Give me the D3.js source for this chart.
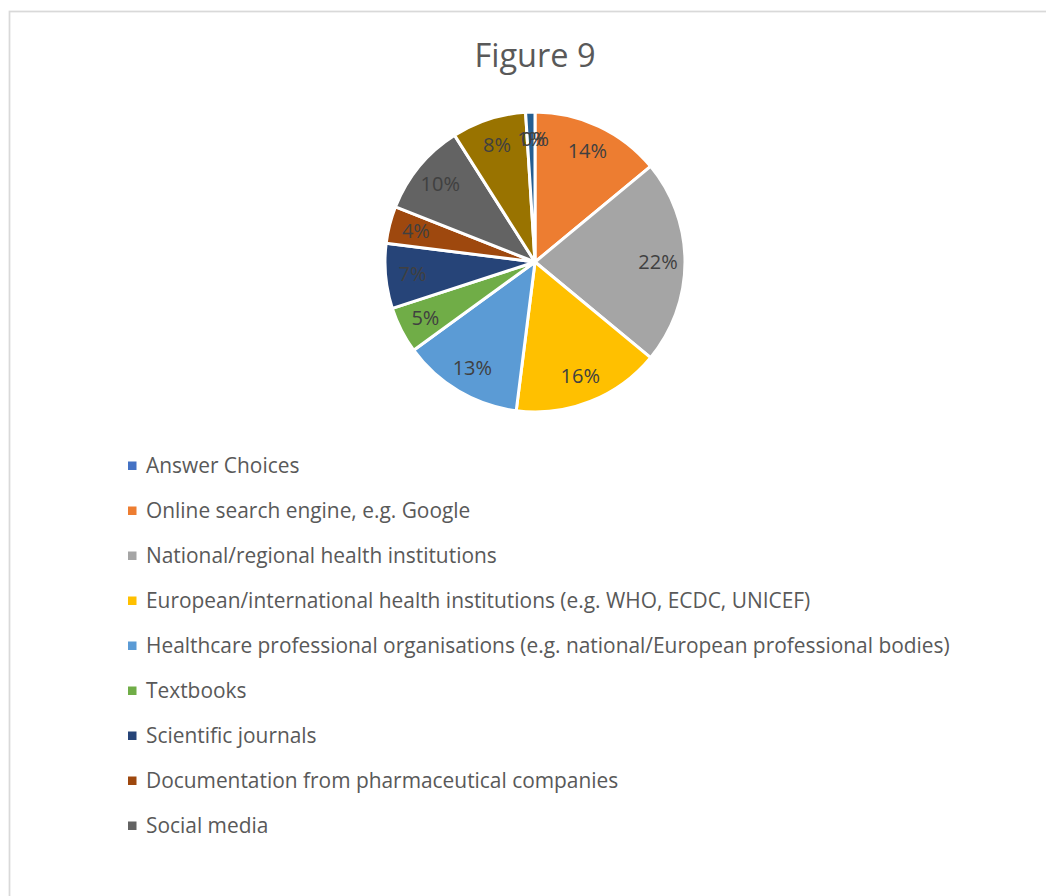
<!DOCTYPE html>
<html>
<head>
<meta charset="utf-8">
<script src="https://cdn.jsdelivr.net/npm/d3@7"></script>
<style>
  body { margin: 0; background: #fff; }
  svg { display: block; font-family: "Open Sans", "Noto Sans", sans-serif; }
</style>
</head>
<body>
<svg id="chart" width="1046" height="896"></svg>
<script>
// categories in pie order (clockwise from 12 o'clock)
var categories = [
  "Answer Choices",
  "Online search engine, e.g. Google",
  "National/regional health institutions",
  "European/international health institutions (e.g. WHO, ECDC, UNICEF)",
  "Healthcare professional organisations (e.g. national/European professional bodies)",
  "Textbooks",
  "Scientific journals",
  "Documentation from pharmaceutical companies",
  "Social media",
  "Other",
  "Other (please specify)"
];
// share of answers, percent
var values = [0, 14, 22, 16, 13, 5, 7, 4, 10, 8, 1];
var colors = ["#4472C4", "#ED7D31", "#A5A5A5", "#FFC000", "#5B9BD5", "#70AD47",
              "#264478", "#9E480E", "#636363", "#997300", "#255E91"];
var legendShown = 9; // legend box only has room for the first nine

var svg = d3.select("#chart");

// chart frame (runs off the right / bottom of the picture)
svg.append("rect")
  .attr("x", 9.5).attr("y", 11.5)
  .attr("width", 1100).attr("height", 1000)
  .attr("fill", "#fff")
  .attr("stroke", "#d9d9d9")
  .attr("stroke-width", 1.75);

svg.append("text")
  .attr("x", 535).attr("y", 67)
  .attr("text-anchor", "middle")
  .attr("fill", "#595959")
  .style("font-size", "32.5px")
  .text("Figure 9");

var data = categories.map(function(c, i){
  return {name: c, value: values[i], color: colors[i]};
});

var cx = 535, cy = 262, r = 150;
var pie = d3.pie().sort(null).value(function(d){ return d.value; });
var arc = d3.arc().innerRadius(0).outerRadius(r);
var labelArc = d3.arc().innerRadius(r * 0.82).outerRadius(r * 0.82);

var g = svg.append("g").attr("transform", "translate(" + cx + "," + cy + ")");
var arcs = pie(data);

g.selectAll("path")
  .data(arcs)
  .enter()
  .append("path")
  .attr("d", arc)
  .attr("fill", function(d){ return d.data.color; })
  .attr("stroke", "#fff")
  .attr("stroke-width", 3)
  .attr("stroke-linejoin", "round");

g.selectAll("text.lbl")
  .data(arcs)
  .enter()
  .append("text")
  .attr("class", "lbl")
  .attr("transform", function(d){ return "translate(" + labelArc.centroid(d) + ")"; })
  .attr("text-anchor", "middle")
  .attr("dy", "0.35em")
  .attr("fill", "#404040")
  .style("font-size", "20px")
  .text(function(d){ return d.data.value + "%"; });

// legend
var legY = d3.scalePoint()
  .domain(categories.slice(0, legendShown))
  .range([466, 826]);

var leg = svg.selectAll("g.leg")
  .data(data.slice(0, legendShown))
  .enter()
  .append("g")
  .attr("class", "leg")
  .attr("transform", function(d){ return "translate(128," + legY(d.name) + ")"; });

leg.append("rect")
  .attr("x", 0).attr("y", -4.5)
  .attr("width", 8.5).attr("height", 8.5)
  .attr("fill", function(d){ return d.color; });

leg.append("text")
  .attr("x", 18)
  .attr("dy", "0.35em")
  .attr("fill", "#595959")
  .style("font-size", "20.9px")
  .text(function(d){ return d.name; });
</script>
</body>
</html>
